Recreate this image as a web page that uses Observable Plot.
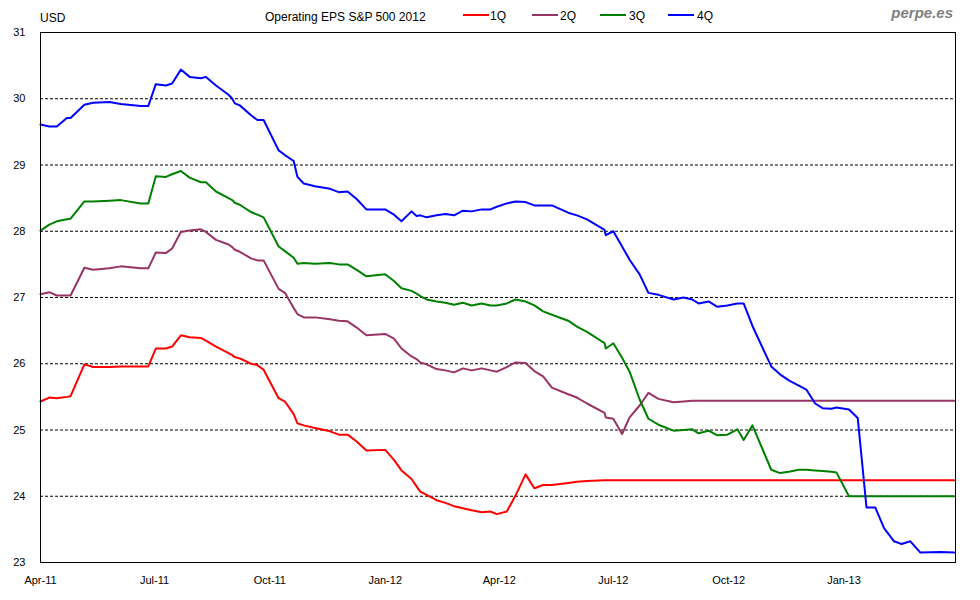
<!DOCTYPE html>
<html>
<head>
<meta charset="utf-8">
<script src="https://cdn.jsdelivr.net/npm/d3@7"></script>
<script src="https://cdn.jsdelivr.net/npm/@observablehq/plot@0.6"></script>
<style>
  html, body { margin: 0; padding: 0; background: #fff; }
  #wrap { position: relative; width: 980px; height: 600px; font-family: Arial, "Liberation Sans", sans-serif; }
  #wrap svg { position: absolute; left: 0; top: 0; }
  .hdr { position: absolute; font-size: 12px; line-height: 12px; color: #000; white-space: nowrap; z-index: 2; }
  .sw { position: absolute; height: 2px; z-index: 2; }
  #brand { position: absolute; font-size: 15px; line-height: 15px; font-weight: bold; font-style: italic; color: #808080; z-index: 2; }
</style>
</head>
<body>
<div id="wrap"></div>
<script>
const dates = [
  "2011-04-01","2011-04-08","2011-04-14","2011-04-22","2011-04-25","2011-05-06","2011-05-13","2011-05-26","2011-06-04","2011-06-20",
  "2011-06-26","2011-07-02","2011-07-10","2011-07-15","2011-07-22","2011-07-29","2011-08-07","2011-08-11","2011-08-19","2011-08-29",
  "2011-09-01","2011-09-03","2011-09-07","2011-09-16","2011-09-21","2011-09-26","2011-10-08","2011-10-13","2011-10-20","2011-10-23",
  "2011-10-28","2011-11-06","2011-11-18","2011-11-25","2011-12-02","2011-12-09","2011-12-17","2012-01-01","2012-01-08","2012-01-14",
  "2012-01-22","2012-01-26","2012-01-29","2012-02-03","2012-02-11","2012-02-18","2012-02-25","2012-03-03","2012-03-10","2012-03-18",
  "2012-03-25","2012-03-30","2012-04-07","2012-04-14","2012-04-22","2012-04-29","2012-05-06","2012-05-13","2012-05-26","2012-06-02",
  "2012-06-10","2012-06-24","2012-06-25","2012-07-01","2012-07-08","2012-07-14","2012-07-22","2012-07-29","2012-08-06","2012-08-18",
  "2012-08-26","2012-09-02","2012-09-07","2012-09-15","2012-09-22","2012-09-30","2012-10-08","2012-10-13","2012-10-20","2012-11-04",
  "2012-11-11","2012-11-18","2012-11-26","2012-12-02","2012-12-09","2012-12-15","2012-12-22","2012-12-26","2013-01-05","2013-01-12",
  "2013-01-19","2013-01-26","2013-02-02","2013-02-10","2013-02-16","2013-02-23","2013-03-03","2013-03-19","2013-03-30"
];

const q1 = [
  25.43,25.49,25.48,25.50,25.51,25.99,25.95,25.95,25.96,25.96,
  25.96,26.23,26.23,26.26,26.43,26.40,26.39,26.35,26.26,26.16,
  26.13,26.10,26.08,26.00,25.98,25.91,25.48,25.43,25.24,25.10,
  25.07,25.03,24.98,24.93,24.93,24.83,24.69,24.70,24.55,24.39,
  24.26,24.15,24.07,24.02,23.94,23.90,23.85,23.82,23.79,23.76,
  23.77,23.73,23.77,24.01,24.33,24.12,24.17,24.17,24.20,24.22,
  24.23,24.24,24.24,24.24,24.24,24.24,24.24,24.24,24.24,24.24,
  24.24,24.24,24.24,24.24,24.24,24.24,24.24,24.24,24.24,24.24,
  24.24,24.24,24.24,24.24,24.24,24.24,24.24,24.24,24.24,24.24,
  24.24,24.24,24.24,24.24,24.24,24.24,24.24,24.24,24.24
];

const q2 = [
  27.05,27.08,27.03,27.03,27.03,27.45,27.42,27.44,27.47,27.44,
  27.44,27.68,27.67,27.74,27.99,28.01,28.03,27.99,27.87,27.80,
  27.76,27.72,27.69,27.59,27.56,27.56,27.13,27.07,26.84,26.75,
  26.70,26.70,26.67,26.65,26.64,26.55,26.43,26.45,26.38,26.23,
  26.11,26.07,26.02,25.99,25.92,25.90,25.87,25.93,25.90,25.93,
  25.90,25.88,25.95,26.02,26.01,25.89,25.81,25.64,25.54,25.49,
  25.40,25.26,25.19,25.17,24.94,25.19,25.37,25.56,25.47,25.42,
  25.43,25.44,25.44,25.44,25.44,25.44,25.44,25.44,25.44,25.44,
  25.44,25.44,25.44,25.44,25.44,25.44,25.44,25.44,25.44,25.44,
  25.44,25.44,25.44,25.44,25.44,25.44,25.44,25.44,25.44
];

const q3 = [
  28.01,28.10,28.15,28.18,28.19,28.45,28.45,28.46,28.47,28.42,
  28.42,28.83,28.82,28.86,28.91,28.81,28.74,28.74,28.60,28.50,
  28.47,28.43,28.40,28.29,28.25,28.21,27.77,27.70,27.60,27.51,
  27.52,27.51,27.52,27.50,27.50,27.42,27.32,27.35,27.25,27.14,
  27.10,27.06,27.02,26.97,26.94,26.92,26.89,26.92,26.88,26.91,
  26.88,26.88,26.91,26.97,26.94,26.88,26.79,26.74,26.65,26.56,
  26.48,26.31,26.23,26.31,26.09,25.88,25.46,25.17,25.08,24.99,
  25.00,25.01,24.95,24.99,24.92,24.93,25.01,24.85,25.07,24.40,
  24.35,24.37,24.40,24.40,24.39,24.38,24.37,24.36,24.00,24.00,
  24.00,24.00,24.00,24.00,24.00,24.00,24.00,24.00,24.00
];

const q4 = [
  29.61,29.58,29.58,29.71,29.71,29.91,29.94,29.95,29.92,29.89,
  29.89,30.22,30.20,30.23,30.44,30.33,30.31,30.33,30.20,30.06,
  30.00,29.93,29.90,29.75,29.68,29.68,29.22,29.15,29.06,28.82,
  28.72,28.68,28.64,28.59,28.60,28.49,28.33,28.33,28.25,28.15,
  28.30,28.23,28.24,28.21,28.24,28.26,28.24,28.31,28.30,28.33,
  28.33,28.37,28.42,28.45,28.44,28.39,28.39,28.39,28.28,28.24,
  28.18,28.02,27.94,28.00,27.77,27.57,27.35,27.07,27.04,26.97,
  27.00,26.97,26.91,26.94,26.86,26.88,26.91,26.91,26.57,25.96,
  25.84,25.75,25.67,25.61,25.40,25.33,25.32,25.34,25.31,25.18,
  23.83,23.83,23.52,23.32,23.28,23.32,23.15,23.16,23.15
];

const seriesNames = ["1Q", "2Q", "3Q", "4Q"];
const seriesColors = ["#ff0000", "#993366", "#008000", "#0000ff"];
const seriesValues = [q1, q2, q3, q4];

const xTickDates = ["2011-04-01","2011-07-01","2011-10-01","2012-01-01","2012-04-01","2012-07-01","2012-10-01","2013-01-01"];
const xTickLabels = ["Apr-11","Jul-11","Oct-11","Jan-12","Apr-12","Jul-12","Oct-12","Jan-13"];
const yTicks = [23, 24, 25, 26, 27, 28, 29, 30, 31];
const yTickLabels = ["23", "24", "25", "26", "27", "28", "29", "30", "31"];
const gridValues = [24, 25, 26, 27, 28, 29, 30];
const xDomain = ["2011-04-01", "2013-03-31"];

const titleText = "Operating EPS S&P 500 2012";
const unitText = "USD";
const brandText = "perpe.es";

const rows = [];
seriesNames.forEach((name, s) => {
  dates.forEach((d, i) => rows.push({date: new Date(d), value: seriesValues[s][i], series: name}));
});

const tickDates = xTickDates.map(d => new Date(d));
const xLabelFor = d => xTickLabels[tickDates.findIndex(t => +t === +d)];
const yLabelFor = v => yTickLabels[yTicks.indexOf(v)];

const chart = Plot.plot({
  width: 980,
  height: 600,
  marginTop: 32,
  marginLeft: 40,
  marginRight: 25,
  marginBottom: 38,
  style: {fontFamily: "Arial, 'Liberation Sans', sans-serif", fontSize: "11px", background: "transparent", color: "#000"},
  x: {type: "utc", domain: xDomain.map(d => new Date(d))},
  y: {domain: [23, 31]},
  color: {domain: seriesNames, range: seriesColors},
  marks: [
    Plot.ruleY(gridValues, {stroke: "#000", strokeWidth: 1, strokeDasharray: "3,2"}),
    Plot.line(rows, {x: "date", y: "value", z: "series", stroke: "series", strokeWidth: 2, strokeLinejoin: "round"}),
    Plot.frame({stroke: "#000", strokeWidth: 1}),
    Plot.axisX(tickDates, {tickSize: 0, tickPadding: 14, tickFormat: xLabelFor, label: null, fontSize: 11}),
    Plot.axisY(yTicks, {tickSize: 0, tickPadding: 15, tickFormat: yLabelFor, label: null, fontSize: 11})
  ]
});

const wrap = document.getElementById("wrap");
wrap.appendChild(chart);

function addText(text, left, top, cls) {
  const el = document.createElement("div");
  el.className = cls;
  el.textContent = text;
  el.style.left = left + "px";
  el.style.top = top + "px";
  wrap.appendChild(el);
  return el;
}

addText(unitText, 40, 11.5, "hdr");
addText(titleText, 265, 11, "hdr");

const swatchLeft = [463, 532, 600, 668];
const labelLeft = [490, 560, 629, 697];
seriesNames.forEach((name, i) => {
  const sw = document.createElement("div");
  sw.className = "sw";
  sw.style.left = swatchLeft[i] + "px";
  sw.style.top = "14px";
  sw.style.width = "26px";
  sw.style.background = seriesColors[i];
  wrap.appendChild(sw);
  addText(name, labelLeft[i], 9.5, "hdr");
});

const brand = addText(brandText, 0, 5, "");
brand.id = "brand";
brand.style.left = "";
brand.style.right = (980 - 953) + "px";
</script>
</body>
</html>
